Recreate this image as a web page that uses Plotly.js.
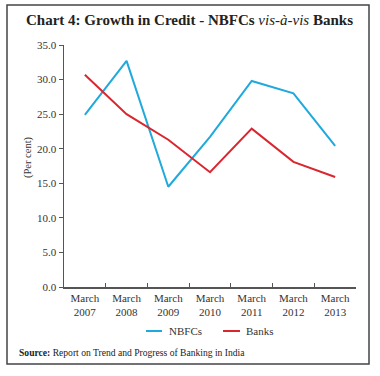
<!DOCTYPE html>
<html><head><meta charset="utf-8">
<script src="https://cdn.plot.ly/plotly-3.0.1.min.js"></script>
<style>html,body{margin:0;padding:0;background:#fff}#c{width:380px;height:376px}</style>
</head><body><div id="c"></div>
<script>
var years = ["March<br>2007","March<br>2008","March<br>2009","March<br>2010","March<br>2011","March<br>2012","March<br>2013"];
var seriesNames = ["NBFCs", "Banks"];
var nbfcs = [24.9, 32.7, 14.5, 21.7, 29.8, 28.0, 20.4];
var banks = [30.7, 25.0, 21.3, 16.6, 22.9, 18.1, 15.9];
var yTicks = [0, 5, 10, 15, 20, 25, 30, 35];
var colors = ["#1fa9dc", "#d9262f"];

var F = "Liberation Serif";
var data = [
  {x: years, y: nbfcs, type: "scatter", mode: "lines", name: seriesNames[0], line: {color: colors[0], width: 2}},
  {x: years, y: banks, type: "scatter", mode: "lines", name: seriesNames[1], line: {color: colors[1], width: 2}}
];
// plot area: x 64..356 (292px), y 45..287 (242px)
function px(x) { return (x - 64) / 292; }
function py(y) { return (287 - y) / 242; }
var legY = py(331);
function fnt(s, c) { return {family: F, size: s, color: c || "#333"}; }
var layout = {
  width: 380, height: 376,
  margin: {l: 64, r: 24, t: 45, b: 89},
  paper_bgcolor: "#fff", plot_bgcolor: "#fff",
  font: fnt(11),
  showlegend: false,
  xaxis: {type: "category", tickson: "boundaries", ticks: "inside", ticklen: 4, tickcolor: "#555",
    showline: true, linecolor: "#555", linewidth: 1.5, showgrid: false, zeroline: false,
    tickfont: fnt(11), range: [-0.5, 6.5]},
  yaxis: {range: [0, 35], tickvals: yTicks, tickformat: ".1f", ticks: "outside", ticklen: 4, tickcolor: "#555",
    showline: true, linecolor: "#555", linewidth: 1.5, showgrid: false, zeroline: false,
    tickfont: fnt(11)},
  annotations: [
    {xref: "paper", yref: "paper", x: px(28), y: py(157), text: "(Per cent)", textangle: -90, showarrow: false,
     xanchor: "center", yanchor: "middle", font: fnt(10.5)},
    {xref: "paper", yref: "paper", x: px(189), y: py(20), text: "<b>Chart 4: Growth in Credit - NBFCs </b><i>vis-à-vis</i><b> Banks</b>",
     showarrow: false, xanchor: "center", yanchor: "middle", font: fnt(15, "#222")},
    {xref: "paper", yref: "paper", x: px(17), y: py(352), text: "<b>Source:</b> Report on Trend and Progress of Banking in India",
     showarrow: false, xanchor: "left", yanchor: "middle", font: fnt(9.6, "#222")},
    {xref: "paper", yref: "paper", x: px(167), y: legY, text: seriesNames[0], showarrow: false,
     xanchor: "left", yanchor: "middle", font: fnt(11)},
    {xref: "paper", yref: "paper", x: px(244), y: legY, text: seriesNames[1], showarrow: false,
     xanchor: "left", yanchor: "middle", font: fnt(11)}
  ],
  shapes: [
    {type: "rect", xref: "paper", yref: "paper", x0: px(7), x1: px(369), y0: py(364), y1: py(5),
     line: {color: "#444", width: 1.5}, fillcolor: "rgba(0,0,0,0)", layer: "below"},
    {type: "line", xref: "paper", yref: "paper", x0: px(146), x1: px(162), y0: legY, y1: legY,
     line: {color: colors[0], width: 2}},
    {type: "line", xref: "paper", yref: "paper", x0: px(223), x1: px(240), y0: legY, y1: legY,
     line: {color: colors[1], width: 2}}
  ]
};
Plotly.newPlot("c", data, layout, {displayModeBar: false, staticPlot: true});
</script></body></html>
